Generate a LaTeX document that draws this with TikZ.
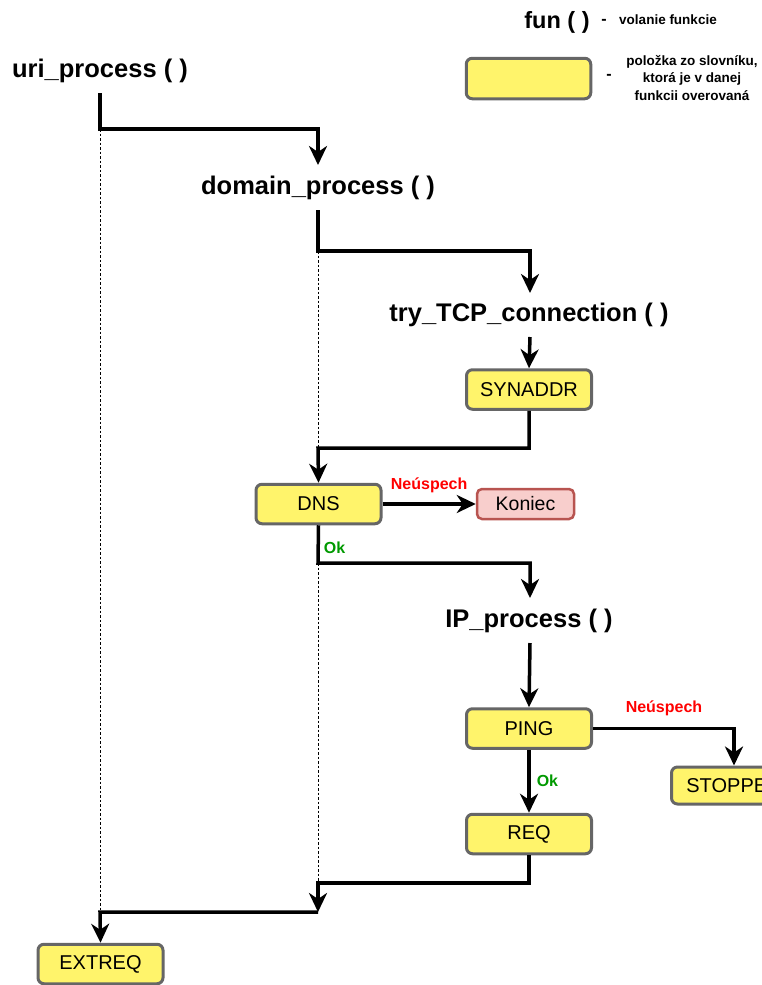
\documentclass[tikz,border=0pt]{standalone}
\usepackage{fontspec}
\setmainfont{Liberation Sans}
\usetikzlibrary{arrows.meta}
\definecolor{itemfill}{HTML}{FFF46B}
\definecolor{itemline}{HTML}{666666}
\definecolor{endfill}{HTML}{F8CECC}
\definecolor{endline}{HTML}{B85450}
\definecolor{failred}{HTML}{FF0000}
\definecolor{okgreen}{HTML}{009900}
\newcommand{\fsz}[1]{\fontsize{#1}{#1}\selectfont}
\begin{document}
\begin{tikzpicture}[x=1pt,y=-1pt,
  funclabel/.style={font=\fsz{25.5}\bfseries, inner sep=0pt},
  itembox/.style={rectangle, rounded corners=6pt, draw=itemline, fill=itemfill,
    line width=3pt, minimum width=125pt, minimum height=39.5pt,
    font=\fsz{20}, inner sep=0pt},
  endbox/.style={rectangle, rounded corners=5pt, draw=endline, fill=endfill,
    line width=2.5pt, minimum width=97pt, minimum height=30pt,
    font=\fsz{19.5}, inner sep=0pt},
  link/.style={line width=3.5pt, -{Stealth[length=19pt,width=18pt,inset=6pt]}},
  guide/.style={line width=0.9pt, dash pattern=on 2.5pt off 2pt},
  failtxt/.style={text=failred, font=\fsz{16}\bfseries, inner sep=0pt},
  oktxt/.style={text=okgreen, font=\fsz{16}\bfseries, inner sep=0pt},
  legtxt/.style={font=\fsz{13.5}\bfseries, inner sep=0pt}]
\useasboundingbox (0,0) rectangle (761,985);

% legend
\node[funclabel, font=\fsz{23.5}\bfseries] (legfun) at (557,22) {fun ( )};
\node[legtxt, font=\fsz{16}\bfseries] (legdash1) at (604,22) {-};
\node[legtxt] (legcall) at (668,20) {volanie funkcie};
\node[itembox, minimum width=124.5pt, minimum height=40.5pt] (legbox) at (528.5,78.5) {};
\node[legtxt, font=\fsz{16}\bfseries] (legdash2) at (609,77) {-};
\node[legtxt, align=center, font=\fsz{13.5}\bfseries\linespread{1.33}\selectfont] (legitem) at (692,78)
  {položka zo slovníku,\\ktorá je v danej\\funkcii overovaná};

% function calls
\node[funclabel] (uri) at (100,71) {uri\_process ( )};
\node[funclabel] (domain) at (318,188) {domain\_process ( )};
\node[funclabel] (tcp) at (529,315) {try\_TCP\_connection ( )};
\node[funclabel] (ip) at (529,621) {IP\_process ( )};

% checked items
\node[itembox] (synaddr) at (529,389.5) {SYNADDR};
\node[itembox] (dns) at (318.5,504) {DNS};
\node[endbox] (koniec) at (525.5,504) {Koniec};
\node[itembox] (ping) at (529,728.5) {PING};
\node[itembox, minimum height=37pt] (stopped) at (734,785.5) {STOPPED};
\node[itembox] (req) at (529,834) {REQ};
\node[itembox] (extreq) at (100.5,964) {EXTREQ};

% routing points
\coordinate (uriout) at (100,93);
\coordinate (uribend) at (100,129);
\coordinate (domin) at (318,165);
\coordinate (domout) at (318,210);
\coordinate (dombend) at (318,251);
\coordinate (tcpin) at (530,293);
\coordinate (tcpout) at (530,337);
\coordinate (dnsin) at (318,448);
\coordinate (okbend) at (318,563);
\coordinate (ipin) at (530,598);
\coordinate (ipout) at (530,643);
\coordinate (reqbend) at (318,883);
\coordinate (join) at (318,912);
\coordinate (urijoin) at (100,912);

% call-stack guides
\draw[guide] (uribend) -- (urijoin);
\draw[guide] (dombend) -- (dnsin);
\draw[guide] (okbend) -- (reqbend);

% flow
\draw[link] (uriout) -- (uribend) -| (domin);
\draw[link] (domout) -- (dombend) -| (tcpin);
\draw[link] (tcpout) -- (synaddr.north);
\draw[link] (synaddr.south) |- (dnsin) -- (dns.north);
\draw[link] (dns.east) -- node[failtxt, above=9pt] (dnsfail) {Neúspech} (koniec.west);
\draw[link] (dns.south) -- node[oktxt, right=4pt, pos=0.6] (dnsok) {Ok} (okbend) -| (ipin);
\draw[link] (ipout) -- (ping.north);
\draw[link] (ping.east) -| (stopped.north);
\node[failtxt] (pingfail) at (664,708) {Neúspech};
\draw[link] (ping.south) -- node[oktxt, right=6pt] (pingok) {Ok} (req.north);
\draw[link] (req.south) |- (reqbend) -- (join);
\draw[link] (join) -- (urijoin) -- (extreq.north);
\end{tikzpicture}
\end{document}
